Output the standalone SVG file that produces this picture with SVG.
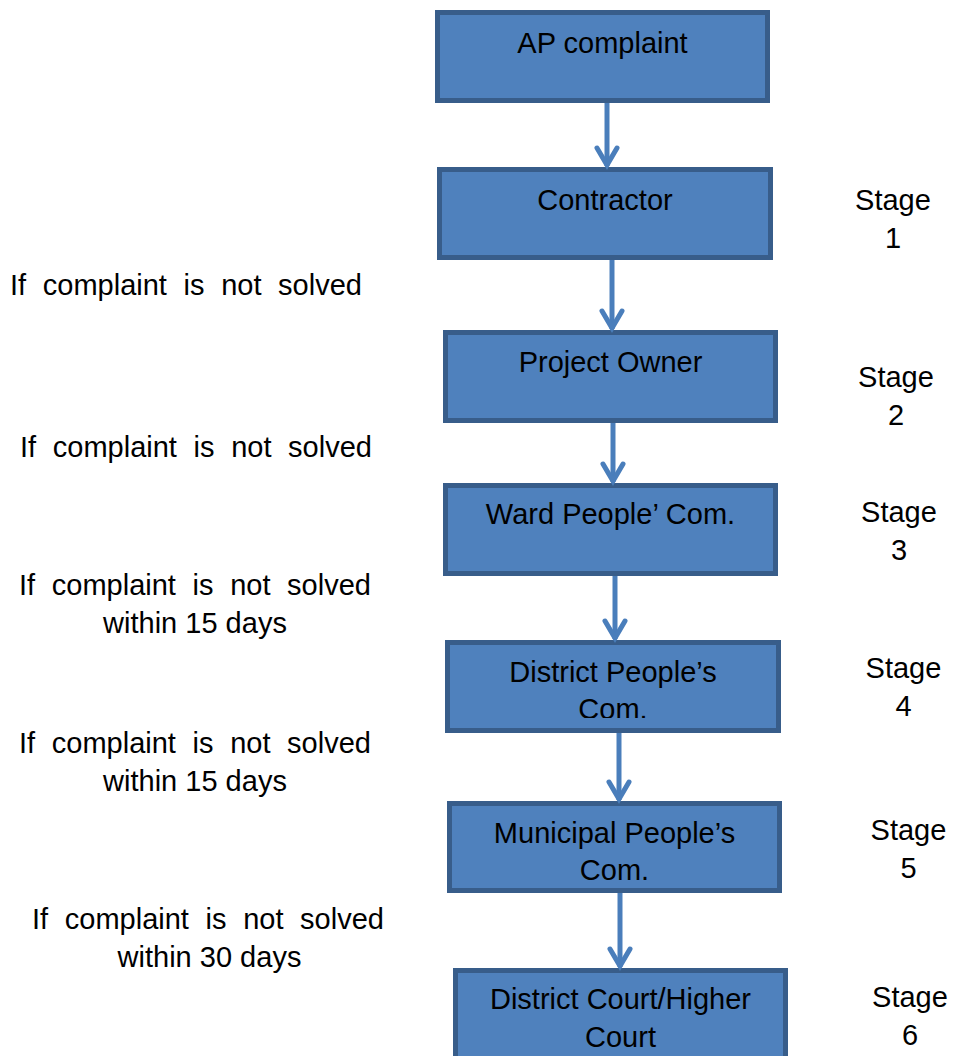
<svg xmlns="http://www.w3.org/2000/svg" width="954" height="1056" viewBox="0 0 954 1056">
<style>
.box{fill:#4f81bd;stroke:#385d8a;stroke-width:5}
.t{font-family:"Liberation Sans",Arial,sans-serif;font-size:29px;fill:#000}
.c{text-anchor:middle}
.lbl{word-spacing:8.6px}
.conn{stroke:#4a7ebb;stroke-width:5;fill:none}
</style>
<defs>
<marker id="arr" markerUnits="userSpaceOnUse" markerWidth="30" markerHeight="30" refX="0" refY="0" orient="auto" overflow="visible">
<path d="M-18,-10 L-1,0 L-18,10" fill="none" stroke="#4a7ebb" stroke-width="5" stroke-linecap="round" stroke-linejoin="miter"/>
</marker>
<clipPath id="clip5"><rect x="445" y="640" width="336" height="78"/></clipPath>
<clipPath id="clip6"><rect x="447" y="801" width="336" height="80"/></clipPath>
<clipPath id="clip7"><rect x="453" y="968" width="336" height="79"/></clipPath>
</defs>
<rect width="954" height="1056" fill="#fff"/>

<g id="n1"><rect class="box" x="437.5" y="12.5" width="330" height="88"/><text class="t c" x="602.5" y="53">AP complaint</text></g>
<g id="n2"><rect class="box" x="439.5" y="169.5" width="331" height="88"/><text class="t c" x="605" y="210">Contractor</text></g>
<g id="n3"><rect class="box" x="445.5" y="332.5" width="330" height="88"/><text class="t c" x="610.5" y="372">Project Owner</text></g>
<g id="n4"><rect class="box" x="445.5" y="485.5" width="330" height="88"/><text class="t c" x="610.5" y="524">Ward People’ Com.</text></g>
<g id="n5"><rect class="box" x="447.5" y="642.5" width="331" height="88"/><text class="t c" x="613" y="682" clip-path="url(#clip5)">District People’s<tspan x="613" y="719">Com.</tspan></text></g>
<g id="n6"><rect class="box" x="449.5" y="803.5" width="330" height="87"/><text class="t c" x="614.5" y="843" clip-path="url(#clip6)">Municipal People’s<tspan x="614.5" y="880">Com.</tspan></text></g>
<g id="n7"><rect class="box" x="455.5" y="970.5" width="330" height="100"/><text class="t c" x="620.5" y="1009" clip-path="url(#clip7)">District Court/Higher<tspan x="620.5" y="1047">Court</tspan></text></g>

<g id="connectors">
<line class="conn" x1="607" y1="103" x2="607" y2="166" marker-end="url(#arr)"/>
<line class="conn" x1="612" y1="260" x2="612" y2="329" marker-end="url(#arr)"/>
<line class="conn" x1="613" y1="423" x2="613" y2="482" marker-end="url(#arr)"/>
<line class="conn" x1="615" y1="576" x2="615" y2="639" marker-end="url(#arr)"/>
<line class="conn" x1="619" y1="733" x2="619" y2="800" marker-end="url(#arr)"/>
<line class="conn" x1="620" y1="893" x2="620" y2="967" marker-end="url(#arr)"/>
</g>

<g id="stages">
<text class="t c" x="893" y="210">Stage<tspan x="893" y="248">1</tspan></text>
<text class="t c" x="896" y="387">Stage<tspan x="896" y="425">2</tspan></text>
<text class="t c" x="899" y="522">Stage<tspan x="899" y="560">3</tspan></text>
<text class="t c" x="903.5" y="678">Stage<tspan x="903.5" y="716">4</tspan></text>
<text class="t c" x="908.5" y="840">Stage<tspan x="908.5" y="878">5</tspan></text>
<text class="t c" x="910" y="1007">Stage<tspan x="910" y="1045">6</tspan></text>
</g>

<g id="conditions">
<text class="t lbl" x="10" y="295">If complaint is not solved</text>
<text class="t lbl" x="20" y="457">If complaint is not solved</text>
<text class="t lbl" x="19" y="595">If complaint is not solved</text>
<text class="t c" x="195" y="633">within 15 days</text>
<text class="t lbl" x="19" y="753">If complaint is not solved</text>
<text class="t c" x="195" y="791">within 15 days</text>
<text class="t lbl" x="32" y="929">If complaint is not solved</text>
<text class="t c" x="209.5" y="967">within 30 days</text>
</g>
</svg>
